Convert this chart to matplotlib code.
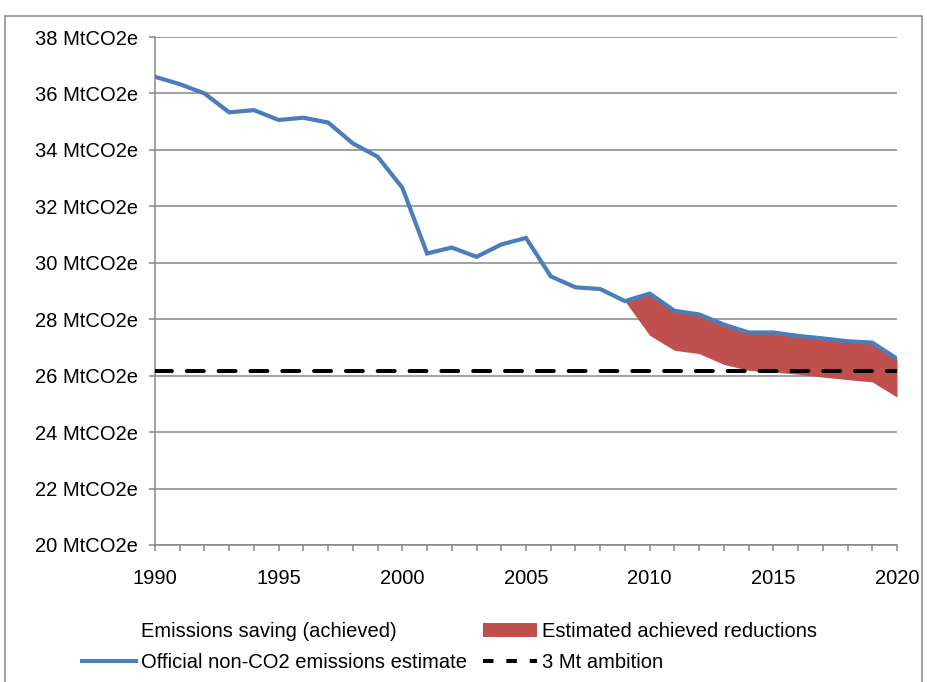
import numpy as np
import matplotlib.pyplot as plt
from matplotlib.patches import Rectangle, Patch
from matplotlib.lines import Line2D

plt.rcParams['font.family'] = ['Liberation Sans', 'DejaVu Sans']

years = list(range(1990, 2021))
official = [36.59, 36.33, 36.0, 35.33, 35.41, 35.06, 35.14, 34.97, 34.23, 33.76,
            32.66, 30.33, 30.54, 30.21, 30.65, 30.88, 29.52, 29.13, 29.07, 28.64,
            28.91, 28.3, 28.17, 27.81, 27.53, 27.53, 27.41, 27.32, 27.22, 27.17, 26.6]
saving_years = list(range(2009, 2021))
saving_low = [28.64, 27.43, 26.9, 26.78, 26.4, 26.19, 26.13, 26.05, 25.95, 25.86, 25.78, 25.24]
ambition = 26.16

blue = '#4A7EBB'
red = '#C0504D'
grey = '#868686'
fs = 14.5

fig = plt.figure(figsize=(9.28, 6.82), dpi=100)
ax = fig.add_axes([155/928, 1-545/682, (897-155)/928, (545-37)/682])

# fill between official line and the lower estimate from 2009 onwards
top = official[years.index(2009):]
ax.fill_between(saving_years, saving_low, top, color=red, lw=0, zorder=2)
ax.plot(years, official, color=blue, lw=3.0, zorder=3, solid_joinstyle='miter')
ax.plot([1990, 2020], [ambition, ambition], color='black', lw=2.9,
        linestyle=(0, (4.2, 3.7)), dash_capstyle='round', zorder=4)

ax.set_xlim(1990, 2020)
ax.set_ylim(20, 38)
ax.set_xticks(range(1990, 2021, 5))
ax.set_xticks(range(1990, 2021), minor=True)
ax.set_yticks(range(20, 39, 2))
ax.set_yticklabels([f'{v} MtCO2e' for v in range(20, 39, 2)])
ax.grid(axis='y', color=grey, lw=1.1, zorder=1)
ax.set_axisbelow(True)
for s in ['top', 'right']:
    ax.spines[s].set_visible(False)
for s in ['left', 'bottom']:
    ax.spines[s].set_color(grey)
    ax.spines[s].set_linewidth(1.1)
ax.tick_params(axis='both', which='both', color=grey, length=4, width=1.1, labelsize=fs)
ax.tick_params(axis='x', which='major', pad=13)
ax.tick_params(axis='y', pad=8.5)

# outer chart border
fig.patches.append(Rectangle((5/928, -0.05), 917/928, 1.05-16/682, transform=fig.transFigure,
                             fill=False, edgecolor=grey, lw=1.1))

handles = [Line2D([], [], color='none'),
           Line2D([], [], color=blue, lw=2.9),
           Patch(facecolor=red, edgecolor='none'),
           Line2D([], [], color='black', lw=2.9, linestyle=(0, (2.6, 3.2)))]
labels = ['Emissions saving (achieved)', 'Official non-CO2 emissions estimate',
          'Estimated achieved reductions', '3 Mt ambition']
fig.legend(handles, labels, ncol=2, loc='upper left', bbox_to_anchor=(82/928, 1-622/682),
           frameon=False, fontsize=fs, handlelength=2.68, handletextpad=0.25,
           columnspacing=0.8, labelspacing=0.62, borderpad=0, borderaxespad=0,
           handleheight=0.7)

fig.savefig('out.png', dpi=100)
